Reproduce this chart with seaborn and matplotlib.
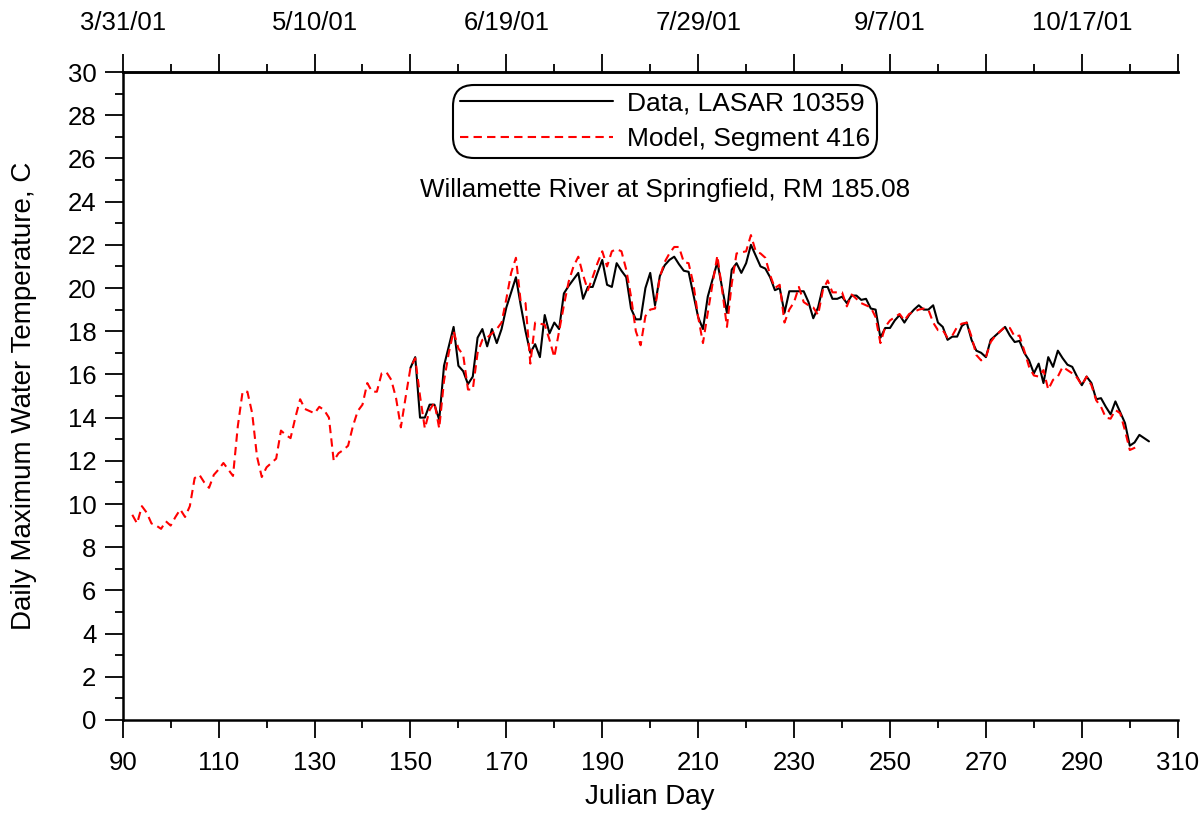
import numpy as np
import pandas as pd
import matplotlib
matplotlib.use("Agg")
import matplotlib.pyplot as plt
import seaborn as sns
from matplotlib.ticker import FixedLocator

# 모델 (Segment 416): 92일부터 하루 간격
model_start = 92
model_temp = [
    9.5, 9.1, 9.9, 9.6, 9.1, 9.0, 8.85, 9.2, 9.0, 9.4,          # 92-101
    9.75, 9.4, 9.9, 11.2, 11.35, 11.0, 10.75, 11.35, 11.6, 11.9,  # 102-111
    11.6, 11.3, 13.6, 15.2, 15.2, 14.2, 12.2, 11.25, 11.7, 11.9,  # 112-121
    12.1, 13.4, 13.2, 13.05, 14.0, 14.85, 14.4, 14.3, 14.2, 14.5, # 122-131
    14.35, 14.0, 12.0, 12.35, 12.5, 12.7, 13.6, 14.3, 14.6, 15.6, # 132-141
    15.2, 15.2, 16.05, 16.1, 15.75, 14.9, 13.55, 14.95, 16.3, 16.75,  # 142-151
    15.0, 13.5, 14.35, 14.7, 13.5, 15.7, 17.0, 18.0, 17.2, 16.9,  # 152-161
    15.3, 15.3, 17.0, 17.6, 17.7, 17.9, 18.1, 18.4, 19.5, 20.7,   # 162-171
    21.4, 19.35, 19.3, 16.5, 18.4, 18.35, 18.3, 17.6, 16.8, 18.0, # 172-181
    19.2, 20.3, 21.0, 21.45, 20.6, 19.9, 20.5, 21.15, 21.7, 21.0, # 182-191
    21.7, 21.8, 21.7, 20.85, 19.6, 18.0, 17.35, 18.7, 19.0, 19.05,  # 192-201
    20.5, 21.2, 21.6, 21.9, 21.9, 21.2, 21.15, 20.2, 18.65, 17.45,  # 202-211
    18.85, 20.2, 21.5, 19.9, 18.2, 20.2, 21.6, 21.65, 21.7, 22.45,  # 212-221
    21.7, 21.6, 21.4, 20.6, 20.0, 20.15, 18.4, 19.0, 19.35, 20.05,  # 222-231
    19.35, 19.2, 19.1, 18.75, 19.9, 20.35, 19.8, 19.8, 19.8, 19.15, # 232-241
    19.7, 19.5, 19.3, 19.2, 19.1, 18.65, 17.45, 18.2, 18.5, 18.65,  # 242-251
    18.8, 18.5, 18.8, 18.9, 19.0, 19.05, 19.0, 18.4, 18.05, 18.05,  # 252-261
    17.7, 17.8, 18.2, 18.35, 18.4, 17.75, 16.9, 16.65, 16.8, 17.5,  # 262-271
    17.8, 18.0, 18.2, 18.15, 17.75, 17.8, 17.1, 16.35, 15.95, 15.9, # 272-281
    16.2, 15.3, 15.75, 15.9, 16.35, 16.2, 16.05, 15.85, 15.5, 15.9, # 282-291
    15.5, 14.8, 14.5, 14.0, 13.95, 14.35, 14.2, 13.4, 12.5, 12.6,   # 292-301
    12.75,                                                          # 302
]

# 관측 자료 (LASAR 10359): 150일부터 하루 간격
data_start = 150
data_temp = [
    16.3, 16.8, 14.0, 14.0, 14.6, 14.6, 13.9, 16.4, 17.3, 18.2,   # 150-159
    16.4, 16.15, 15.55, 15.9, 17.7, 18.1, 17.3, 18.1, 17.45, 18.1, # 160-169
    19.1, 19.8, 20.5, 19.2, 18.0, 17.0, 17.4, 16.8, 18.75, 17.9,  # 170-179
    18.4, 18.1, 19.75, 20.1, 20.4, 20.7, 19.5, 20.05, 20.05, 20.7, # 180-189
    21.3, 20.15, 20.05, 21.15, 20.8, 20.5, 19.05, 18.55, 18.55, 20.0,  # 190-199
    20.7, 19.2, 20.55, 21.05, 21.3, 21.45, 21.1, 20.8, 20.75, 19.7,    # 200-209
    18.65, 18.1, 19.6, 20.4, 21.2, 20.0, 18.85, 20.85, 21.15, 20.7,    # 210-219
    21.15, 22.0, 21.5, 21.0, 20.9, 20.5, 19.9, 20.0, 18.85, 19.85,     # 220-229
    19.85, 19.85, 19.85, 19.35, 18.6, 19.1, 20.05, 20.05, 19.5, 19.5,  # 230-239
    19.6, 19.3, 19.65, 19.65, 19.45, 19.5, 19.05, 19.0, 17.7, 18.15,   # 240-249
    18.15, 18.5, 18.75, 18.4, 18.75, 19.0, 19.2, 19.0, 19.0, 19.2,     # 250-259
    18.4, 18.2, 17.6, 17.75, 17.75, 18.25, 18.4, 17.6, 17.1, 17.0,     # 260-269
    16.8, 17.6, 17.8, 18.0, 18.2, 17.8, 17.5, 17.55, 17.0, 16.65,      # 270-279
    16.05, 16.5, 15.6, 16.8, 16.35, 17.1, 16.75, 16.45, 16.35, 15.9,   # 280-289
    15.5, 15.9, 15.6, 14.85, 14.9, 14.5, 14.15, 14.75, 14.25, 13.75,   # 290-299
    12.7, 12.85, 13.2, 13.05, 12.9,                                    # 300-304
]

x_major = [90, 110, 130, 150, 170, 190, 210, 230, 250, 270, 290, 310]
x_minor = [100, 120, 140, 160, 180, 200, 220, 240, 260, 280, 300]
top_tick_days = [90, 130, 170, 210, 250, 290]
top_tick_labels = ["3/31/01", "5/10/01", "6/19/01", "7/29/01", "9/7/01", "10/17/01"]

model_df = pd.DataFrame({"day": np.arange(model_start, model_start + len(model_temp)),
                         "temp": model_temp})
data_df = pd.DataFrame({"day": np.arange(data_start, data_start + len(data_temp)),
                        "temp": data_temp})

sns.set_style("ticks")
plt.rcParams["font.family"] = ["Liberation Sans", "DejaVu Sans"]
plt.rcParams["text.color"] = "black"
plt.rcParams["axes.labelcolor"] = "black"

fig = plt.figure(figsize=(12.03, 8.13), dpi=100)
ax = fig.add_axes([0.102, 0.1144, 0.877, 0.797])

sns.lineplot(data=data_df, x="day", y="temp", ax=ax, color="black", lw=1.5,
             label="Data, LASAR 10359")
sns.lineplot(data=model_df, x="day", y="temp", ax=ax, color="red", lw=1.5,
             label="Model, Segment 416")
ax.lines[1].set_dashes([4, 2.5])

ax.set_xlim(90, 310)
ax.set_ylim(0, 30)
ax.xaxis.set_major_locator(FixedLocator(x_major))
ax.xaxis.set_minor_locator(FixedLocator(x_minor))
ax.yaxis.set_major_locator(FixedLocator(list(range(0, 31, 2))))
ax.yaxis.set_minor_locator(FixedLocator(list(range(1, 30, 2))))
ax.tick_params(which="major", direction="out", length=13, width=1.3,
               labelsize=18.5, colors="black")
ax.tick_params(which="minor", direction="out", length=6, width=1.3, colors="black")
ax.tick_params(axis="x", pad=9)
ax.tick_params(axis="y", pad=6)
ax.set_xlabel("Julian Day", fontsize=20, labelpad=7)
ax.set_ylabel("Daily Maximum Water Temperature, C", fontsize=20, labelpad=22)

for side in ["left", "bottom", "top"]:
    ax.spines[side].set_linewidth(1.8)
    ax.spines[side].set_color("black")
ax.spines["right"].set_visible(False)

# 위쪽 날짜 축
top = ax.twiny()
top.set_xlim(ax.get_xlim())
top.xaxis.set_major_locator(FixedLocator(x_major))
top.xaxis.set_minor_locator(FixedLocator(x_minor))
top.set_xticklabels([top_tick_labels[top_tick_days.index(d)] if d in top_tick_days else ""
                     for d in x_major])
top.tick_params(which="major", direction="out", length=13, width=1.3,
                labelsize=18.5, pad=14, colors="black")
top.tick_params(which="minor", direction="out", length=6, width=1.3, colors="black")
for side in ["left", "right", "bottom"]:
    top.spines[side].set_visible(False)
top.spines["top"].set_linewidth(1.8)
top.spines["top"].set_color("black")

leg = ax.legend(loc="upper center", bbox_to_anchor=(0.514, 0.978), fontsize=19,
                frameon=True, fancybox=True, edgecolor="black", framealpha=1,
                handlelength=5.8, handletextpad=0.55, borderpad=0.1, labelspacing=0.45,
                borderaxespad=0.1)
leg.get_frame().set_linewidth(1.5)
leg.get_frame().set_boxstyle("round", pad=0.15, rounding_size=0.8)

ax.text(0.514, 0.818, "Willamette River at Springfield, RM 185.08", transform=ax.transAxes,
        ha="center", va="center", fontsize=18.7)

fig.savefig("out.png", dpi=100)
